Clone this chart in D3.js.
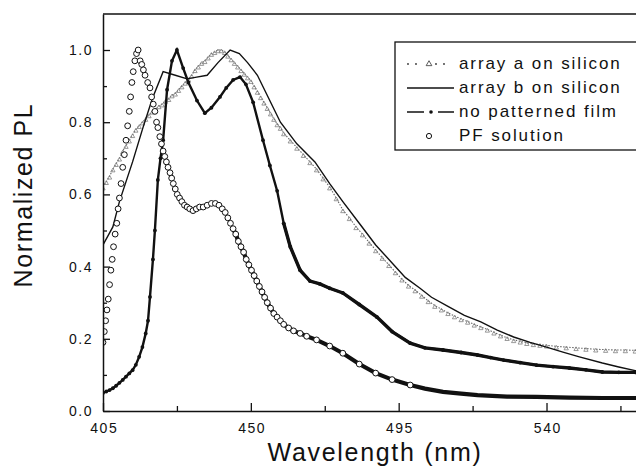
<!DOCTYPE html>
<html>
<head>
<meta charset="utf-8">
<script src="https://cdn.jsdelivr.net/npm/d3@7/dist/d3.min.js"></script>
<style>
  html, body { margin: 0; padding: 0; background: #fff; }
  svg { display: block; font-family: "Liberation Sans", Arial, sans-serif; }
</style>
</head>
<body>
<svg id="chart" width="636" height="467"></svg>
<script>
// ---- data ----
const xTicks = [405, 450, 495, 540];
const xMinorTicks = [427.5, 472.5, 517.5, 562.5];
const yTicks = [0.0, 0.2, 0.4, 0.6, 0.8, 1.0];
const yMinorTicks = [0.1, 0.3, 0.5, 0.7, 0.9];
const legendLabels = ["array a on silicon", "array b on silicon", "no patterned film", "PF solution"];

// array a on silicon (dotted, triangles)
const arrayA_wl = [405,406,407,408,409,410,411,412,413,414,415,416,417,418,419,420,421,422,423,424,425,426,427,428,429,430,431,432,433,434,435,436,437,438,439,440,441,442,443,444,445,446,447,448,449,450,451,452,453,454,455,456,457,458,459,460,462,464,466,468,470,472,474,476,478,480,482,484,486,488,490,492,494,496,498,500,502,504,506,508,510,512,514,516,518,520,522,524,526,528,530,532,534,536,538,540,543,546,549,552,555,558,561,564,567,570];
const arrayA_pl = [0.62,0.635,0.65,0.67,0.685,0.70,0.72,0.735,0.75,0.765,0.78,0.79,0.80,0.81,0.82,0.83,0.835,0.845,0.85,0.86,0.865,0.875,0.88,0.89,0.90,0.91,0.92,0.93,0.945,0.955,0.965,0.97,0.98,0.99,0.995,1.0,1.0,0.995,0.985,0.975,0.965,0.955,0.945,0.935,0.925,0.915,0.90,0.885,0.87,0.855,0.84,0.825,0.81,0.795,0.785,0.77,0.75,0.73,0.71,0.69,0.67,0.645,0.62,0.59,0.557,0.535,0.51,0.49,0.467,0.446,0.425,0.405,0.385,0.365,0.348,0.335,0.32,0.305,0.292,0.282,0.272,0.263,0.255,0.248,0.24,0.233,0.226,0.218,0.21,0.203,0.197,0.193,0.189,0.186,0.184,0.182,0.179,0.177,0.175,0.173,0.171,0.170,0.169,0.169,0.168,0.168];

// array b on silicon (solid)
const arrayB_wl = [405,408,410,414,417,420,423.3,427,430.6,433.5,436.7,440,443.7,446.5,449,452,455.5,459,464,469.5,474,478,483,488,493,497,501.5,505,510,515,520,525,530,535,540,545,550,557,562,567,570];
const arrayB_pl = [0.46,0.51,0.58,0.69,0.78,0.865,0.94,0.93,0.92,0.925,0.93,0.965,1.0,0.99,0.965,0.93,0.865,0.80,0.74,0.69,0.63,0.58,0.52,0.46,0.41,0.37,0.34,0.315,0.29,0.265,0.247,0.224,0.205,0.19,0.177,0.163,0.15,0.133,0.122,0.112,0.108];

// no patterned film (thick line with dots)
const film_wl = [405,406,407,408,409,410,411,412,413,414,415,416,417,418,418.7,419.3,420.2,420.8,421.7,422.5,423.3,424.5,426,427.5,429.4,431,433.6,436,438,440.6,442.5,444.6,446.7,448.5,450.7,453.7,455.8,458,460,462,465,468,471,474,478,483,488.4,493,498.5,503,508.5,514,519,523,527,532,537,542,547,552,557,562,567,570];
const film_pl = [0.05,0.054,0.058,0.063,0.07,0.078,0.086,0.095,0.104,0.113,0.128,0.15,0.177,0.215,0.25,0.316,0.42,0.50,0.64,0.70,0.75,0.89,0.97,1.0,0.95,0.91,0.86,0.825,0.84,0.87,0.895,0.917,0.925,0.905,0.855,0.75,0.68,0.61,0.52,0.455,0.39,0.36,0.352,0.34,0.327,0.295,0.26,0.22,0.188,0.175,0.169,0.162,0.155,0.148,0.141,0.134,0.127,0.123,0.119,0.114,0.108,0.107,0.107,0.106];

// PF solution (open circles)
const pf_wl = [405.0,405.4,405.8,406.2,406.6,407.0,407.4,407.8,408.2,408.7,409.2,409.6,410.0,410.5,411.0,411.5,412.0,412.5,413.0,413.4,413.8,414.2,414.7,415.2,415.7,416.3,416.8,417.3,417.8,418.6,419.3,419.8,420.3,420.8,421.3,421.7,422.3,422.8,423.3,423.8,424.3,424.8,425.4,425.9,426.4,427.0,427.6,428.3,429.0,429.8,430.6,431.4,432.4,433.4,434.4,435.5,436.7,438.0,439.2,440.3,441.3,442.2,443.0,443.8,444.6,445.4,446.2,447.0,447.8,448.6,449.4,450.2,451.0,451.8,452.6,453.4,454.2,455.0,456.0,457.0,458.0,459.0,460.0,461.5,463,465,467,470,474,478,483,488,493,498.5,503,508.5,514,519,528,537,547,557,567,570];
const pf_pl = [0.19,0.22,0.25,0.28,0.31,0.35,0.39,0.42,0.455,0.49,0.52,0.56,0.59,0.63,0.675,0.71,0.75,0.79,0.83,0.87,0.91,0.94,0.97,0.99,1.0,0.97,0.96,0.945,0.93,0.91,0.895,0.87,0.85,0.83,0.80,0.785,0.76,0.74,0.72,0.705,0.69,0.675,0.66,0.645,0.63,0.615,0.60,0.59,0.58,0.57,0.565,0.56,0.555,0.56,0.565,0.565,0.57,0.575,0.575,0.57,0.56,0.55,0.535,0.52,0.505,0.49,0.47,0.455,0.44,0.42,0.405,0.39,0.375,0.36,0.345,0.33,0.315,0.30,0.285,0.27,0.26,0.25,0.24,0.23,0.222,0.215,0.207,0.197,0.18,0.16,0.13,0.105,0.087,0.072,0.062,0.053,0.048,0.044,0.04,0.039,0.037,0.036,0.036,0.036];

// ---- drawing ----
const svg = d3.select("#chart");
const W = 636, H = 467;
const x = d3.scaleLinear().domain([405, 575]).range([103, 661.5]);
const y = d3.scaleLinear().domain([0, 1.1]).range([411, 13.9]);

svg.append("rect").attr("width", W).attr("height", H).attr("fill", "#fff");

svg.append("defs").append("clipPath").attr("id", "plotclip")
  .append("rect").attr("x", 103).attr("y", 13).attr("width", W - 103).attr("height", 411 - 13);

const zip = (a, b) => a.map((d, i) => ({ w: d, v: b[i] }));
const A = zip(arrayA_wl, arrayA_pl);
const B = zip(arrayB_wl, arrayB_pl);
const F = zip(film_wl, film_pl);
const P = zip(pf_wl, pf_pl);

const line = d3.line().x(d => x(d.w)).y(d => y(d.v));
const plot = svg.append("g").attr("clip-path", "url(#plotclip)");

// array a: dotted grey line with small triangles
plot.append("path").datum(A).attr("d", line)
  .attr("fill", "none").attr("stroke", "#666").attr("stroke-width", 1.1)
  .attr("stroke-dasharray", "1.5,1.5");
const tri = d3.symbol().type(d3.symbolTriangle).size(8);
plot.append("g").selectAll("path").data(A).join("path")
  .attr("d", tri)
  .attr("transform", d => `translate(${x(d.w)},${y(d.v) + 1.5})`)
  .attr("fill", "none").attr("stroke", "#808080").attr("stroke-width", 0.8);

// array b: solid thin line
plot.append("path").datum(B).attr("d", line)
  .attr("fill", "none").attr("stroke", "#111").attr("stroke-width", 1.4);

// no patterned film: thick line with dots
plot.append("path").datum(F).attr("d", line)
  .attr("fill", "none").attr("stroke", "#111").attr("stroke-width", 2.4);
plot.append("path").datum(F.filter(d => d.w >= 460)).attr("d", line)
  .attr("fill", "none").attr("stroke", "#111").attr("stroke-width", 3.4);
plot.append("g").selectAll("circle").data(F).join("circle")
  .attr("cx", d => x(d.w)).attr("cy", d => y(d.v)).attr("r", 1.9)
  .attr("fill", "#111");

// PF solution: thick band in the dense tail + open circles
plot.append("path").datum(P.filter(d => d.w >= 444)).attr("d", line)
  .attr("fill", "none").attr("stroke", "#111").attr("stroke-width", 4.2);
plot.append("g").selectAll("circle").data(P.filter(d => d.w <= 500)).join("circle")
  .attr("cx", d => x(d.w)).attr("cy", d => y(d.v)).attr("r", 2.9)
  .attr("fill", "#fff").attr("stroke", "#111").attr("stroke-width", 1);

// ---- axes ----
const axisFont = g => g.selectAll("text")
  .attr("font-family", "'Liberation Sans', Arial, sans-serif")
  .attr("font-size", 14).attr("fill", "#111").style("letter-spacing", "1.5px");

const gx = svg.append("g").attr("transform", "translate(0,411)")
  .call(d3.axisBottom(x).tickValues(xTicks).tickSize(-8).tickSizeOuter(0).tickPadding(12).tickFormat(d3.format("d")));
gx.call(axisFont);
gx.selectAll("text").attr("dx", "0.75px");
svg.append("g").attr("transform", "translate(0,411)")
  .call(d3.axisBottom(x).tickValues(xMinorTicks).tickSize(-5).tickSizeOuter(0).tickFormat(""))
  .select(".domain").remove();

const gy = svg.append("g").attr("transform", "translate(103,0)")
  .call(d3.axisLeft(y).tickValues(yTicks).tickSize(-7).tickSizeOuter(0).tickPadding(10).tickFormat(d3.format(".1f")));
gy.call(axisFont);
svg.append("g").attr("transform", "translate(103,0)")
  .call(d3.axisLeft(y).tickValues(yMinorTicks).tickSize(-4).tickSizeOuter(0).tickFormat(""))
  .select(".domain").remove();

svg.selectAll(".domain").attr("stroke", "#111").attr("stroke-width", 1.5);
svg.selectAll(".tick line").attr("stroke", "#111").attr("stroke-width", 1.3);

// top frame line
svg.append("line").attr("x1", 103).attr("x2", W).attr("y1", y(1.1)).attr("y2", y(1.1))
  .attr("stroke", "#111").attr("stroke-width", 1.5);

// axis titles
svg.append("text").attr("x", 375).attr("y", 461).attr("text-anchor", "middle")
  .attr("font-size", 25).attr("fill", "#111").style("letter-spacing", "1.7px")
  .text("Wavelength (nm)");
svg.append("text").attr("transform", "translate(32,195) rotate(-90)").attr("text-anchor", "middle")
  .attr("font-size", 25).attr("fill", "#111").style("letter-spacing", "1.6px")
  .text("Normalized PL");

// ---- legend ----
const lg = svg.append("g");
lg.append("rect").attr("x", 395).attr("y", 42).attr("width", 260).attr("height", 108)
  .attr("fill", "#fff").attr("stroke", "#111").attr("stroke-width", 1.3);
const rowY = [64, 88, 112, 136];
lg.selectAll("text").data(legendLabels).join("text")
  .attr("x", 459).attr("y", (d, i) => rowY[i] + 5)
  .attr("font-size", 17).attr("fill", "#111").style("letter-spacing", "1.9px")
  .text(d => d);
// row 1: dotted with triangle
lg.selectAll("circle.dot").data([408, 416, 436, 444]).join("circle").attr("class", "dot")
  .attr("cx", d => d).attr("cy", rowY[0]).attr("r", 0.9).attr("fill", "#333");
lg.append("path").attr("d", d3.symbol().type(d3.symbolTriangle).size(14))
  .attr("transform", `translate(429,${rowY[0]})`).attr("fill", "none").attr("stroke", "#333").attr("stroke-width", 0.8);
// row 2: solid line
lg.append("line").attr("x1", 407).attr("x2", 454).attr("y1", rowY[1]).attr("y2", rowY[1])
  .attr("stroke", "#111").attr("stroke-width", 1.5);
// row 3: dash dot dash
lg.append("line").attr("x1", 407).attr("x2", 424).attr("y1", rowY[2]).attr("y2", rowY[2])
  .attr("stroke", "#111").attr("stroke-width", 1.5);
lg.append("circle").attr("cx", 431).attr("cy", rowY[2]).attr("r", 1.8).attr("fill", "#111");
lg.append("line").attr("x1", 438).attr("x2", 454).attr("y1", rowY[2]).attr("y2", rowY[2])
  .attr("stroke", "#111").attr("stroke-width", 1.5);
// row 4: open circle
lg.append("circle").attr("cx", 429).attr("cy", rowY[3]).attr("r", 2.6)
  .attr("fill", "#fff").attr("stroke", "#111").attr("stroke-width", 1);
</script>
</body>
</html>
